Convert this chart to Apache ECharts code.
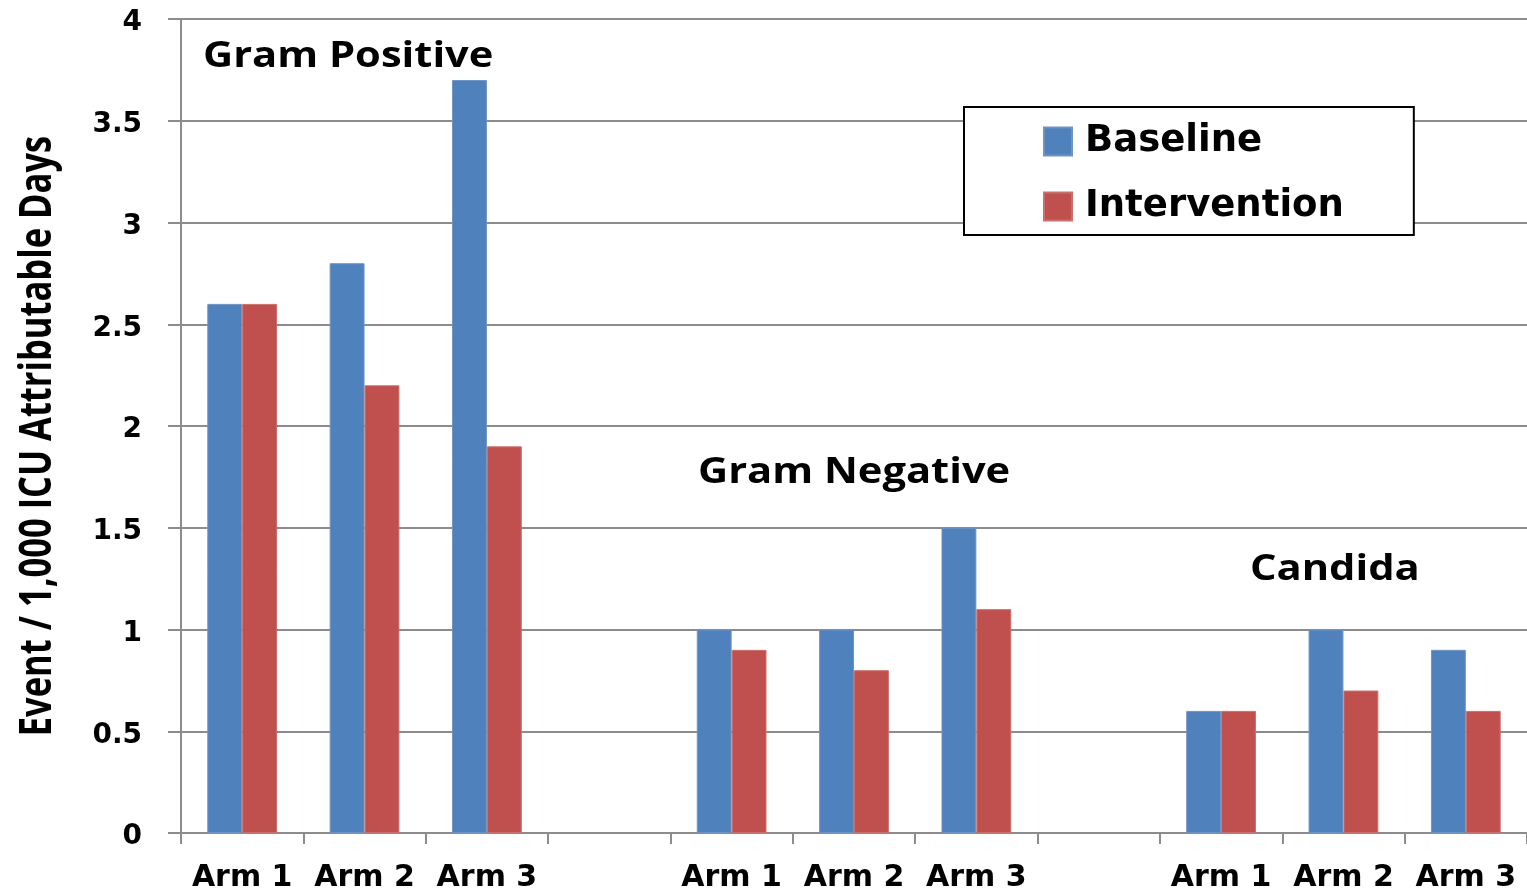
<!DOCTYPE html>
<html>
<head>
<meta charset="utf-8">
<script src="https://cdn.jsdelivr.net/npm/echarts@6/dist/echarts.min.js"></script>
<style>
html,body{margin:0;padding:0;background:#fff;}
#chart{width:1527px;height:893px;}
</style>
</head>
<body>
<div id="chart"></div>
<script>
var categories = ['Arm 1','Arm 2','Arm 3','','Arm 1','Arm 2','Arm 3','','Arm 1','Arm 2','Arm 3'];
var baseline = [2.6, 2.8, 3.7, null, 1.0, 1.0, 1.5, null, 0.6, 1.0, 0.9];
var intervention = [2.6, 2.2, 1.9, null, 0.9, 0.8, 1.1, null, 0.6, 0.7, 0.6];
var seriesNames = ['Baseline', 'Intervention'];
var groupLabels = ['Gram Positive', 'Gram Negative', 'Candida'];
var yTitle = 'Event / 1,000 ICU Attributable Days';

var chart = echarts.init(document.getElementById('chart'));
var openBold = '"Open Sans", sans-serif';
var wideBold = '"DejaVu Sans", sans-serif';
chart.setOption({
  backgroundColor: '#ffffff',
  animation: false,
  grid: {left: 181, right: -4, top: 19, bottom: 59, containLabel: false},
  legend: {
    data: seriesNames,
    orient: 'vertical',
    left: 964, top: 107,
    padding: [16, 70, 10, 79],
    itemWidth: 28, itemHeight: 28, itemGap: 28,
    borderColor: '#000', borderWidth: 2,
    backgroundColor: '#fff',
    icon: 'rect',
    textStyle: {fontFamily: wideBold, fontWeight: 'bold', fontSize: 37, color: '#000', padding: [0,0,0,8]}
  },
  xAxis: {
    type: 'category',
    data: categories,
    axisLine: {lineStyle: {color: '#8c8c8c', width: 2}},
    axisTick: {show: true, interval: 0, length: 11, lineStyle: {color: '#8c8c8c', width: 2}},
    axisLabel: {interval: 0, margin: 30, fontFamily: wideBold, fontWeight: 'bold', fontSize: 30, color: '#000'},
    splitLine: {show: false}
  },
  yAxis: {
    type: 'value',
    min: 0, max: 4, interval: 0.5,
    axisLine: {show: true, lineStyle: {color: '#8c8c8c', width: 2}},
    axisTick: {show: true, length: 13, lineStyle: {color: '#8c8c8c', width: 2}},
    axisLabel: {
      margin: 39,
      formatter: '{v|{value}}',
      rich: {v: {padding: [8, 0, 0, 0], fontFamily: wideBold, fontWeight: 'bold', fontSize: 28, color: '#000'}},
      fontFamily: wideBold, fontWeight: 'bold', fontSize: 28, color: '#000'
    },
    splitLine: {show: true, lineStyle: {color: '#8c8c8c', width: 2}}
  },
  series: [
    {name: seriesNames[0], type: 'bar', data: baseline, barGap: '0%', barCategoryGap: '43%',
     itemStyle: {color: '#4F81BD', borderColor: '#6f93c4', borderWidth: 1}},
    {name: seriesNames[1], type: 'bar', data: intervention, barGap: '0%', barCategoryGap: '43%',
     itemStyle: {color: '#C0504D', borderColor: '#c96f6c', borderWidth: 1}}
  ],
  graphic: [
    {type: 'text', x: 203, y: 57, scaleX: 1.19, style: {text: groupLabels[0], font: 'bold 35px ' + openBold, fill: '#000', verticalAlign: 'middle'}},
    {type: 'text', x: 698, y: 473, scaleX: 1.19, style: {text: groupLabels[1], font: 'bold 35px ' + openBold, fill: '#000', verticalAlign: 'middle'}},
    {type: 'text', x: 1250, y: 570, scaleX: 1.19, style: {text: groupLabels[2], font: 'bold 35px ' + openBold, fill: '#000', verticalAlign: 'middle'}},
    {type: 'text', x: 38, y: 436, rotation: Math.PI / 2, scaleY: 1.3,
     style: {text: yTitle, font: 'bold 34.5px ' + openBold, fill: '#000', align: 'center', verticalAlign: 'middle'}}
  ]
});
</script>
</body>
</html>
